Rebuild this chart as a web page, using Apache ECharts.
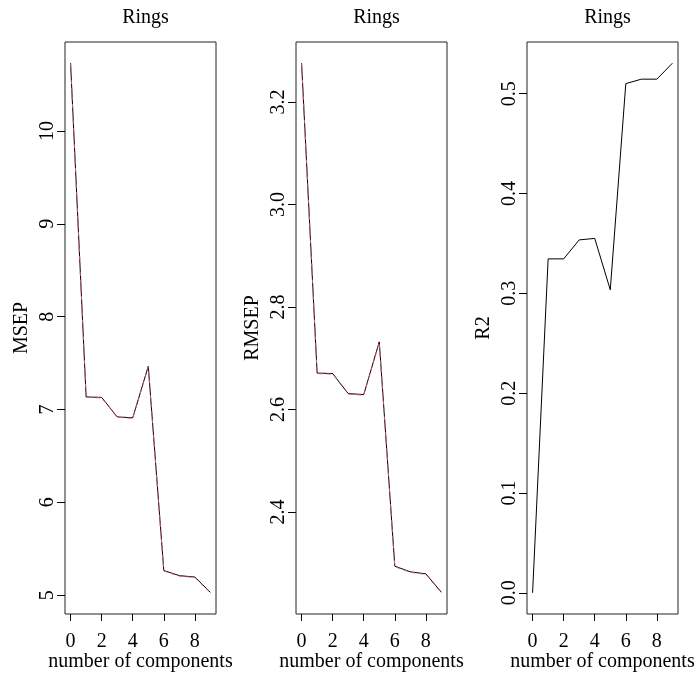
<!DOCTYPE html>
<html>
<head>
<meta charset="utf-8">
<script src="https://cdn.jsdelivr.net/npm/echarts@6/dist/echarts.min.js"></script>
<style>
  html, body { margin: 0; padding: 0; background: #fff; }
  #chart { width: 700px; height: 673px; }
</style>
</head>
<body>
<div id="chart"></div>
<script>
// number of components on the x axis
const components = [0, 1, 2, 3, 4, 5, 6, 7, 8, 9];

// MSEP panel: CV (black solid) and adjCV (red dashed)
const msepCV = [10.73, 7.135, 7.13, 6.92, 6.91, 7.465, 5.265, 5.21, 5.195, 5.03];
const msepAdjCV = [10.72, 7.13, 7.125, 6.915, 6.905, 7.46, 5.26, 5.205, 5.19, 5.025];

// RMSEP panel
const rmsepCV = [3.276, 2.671, 2.670, 2.631, 2.629, 2.732, 2.294, 2.283, 2.279, 2.243];
const rmsepAdjCV = [3.275, 2.670, 2.669, 2.630, 2.628, 2.731, 2.293, 2.282, 2.278, 2.242];

// R2 panel
const r2 = [0, 0.3345, 0.3345, 0.3535, 0.355, 0.3035, 0.510, 0.5145, 0.5145, 0.5305];

// tick labels
const xTicks = [0, 2, 4, 6, 8];
const msepTicks = [5, 6, 7, 8, 9, 10];
const rmsepTicks = [2.4, 2.6, 2.8, 3.0, 3.2];
const r2Ticks = [0, 0.1, 0.2, 0.3, 0.4, 0.5];

const panelTitles = ["Rings", "Rings", "Rings"];
const yNames = ["MSEP", "RMSEP", "R2"];

const font = "'Liberation Serif', 'Times New Roman', serif";
const red = "#DF536B";

// R pads the data range by 4% on each side
function padMin(v) { return v.min - 0.04 * (v.max - v.min); }
function padMax(v) { return v.max + 0.04 * (v.max - v.min); }

function pairs(ys) {
    return ys.map((y, i) => [components[i], y]);
}

const lefts = [65, 296, 527];
const panelWidth = 151;

function makeX(i) {
    return {
        type: "value",
        gridIndex: i,
        min: padMin,
        max: padMax,
        splitLine: { show: false },
        axisLine: { show: false, onZero: false },
        axisTick: {
            show: true,
            length: 7,
            customValues: xTicks,
            lineStyle: { color: "#000", width: 1 }
        },
        axisLabel: {
            customValues: xTicks,
            margin: 18,
            color: "#000",
            fontFamily: font,
            fontSize: 20
        },
        name: "number of components",
        nameLocation: "middle",
        nameGap: 38,
        nameMoveOverlap: false,
        nameTextStyle: { color: "#000", fontFamily: font, fontSize: 20 }
    };
}

function makeY(i, ticks, decimals) {
    return {
        type: "value",
        gridIndex: i,
        min: padMin,
        max: padMax,
        splitLine: { show: false },
        axisLine: { show: false, onZero: false },
        axisTick: {
            show: true,
            length: 8,
            customValues: ticks,
            lineStyle: { color: "#000", width: 1 }
        },
        axisLabel: {
            customValues: ticks,
            rotate: 90,
            margin: 7,
            color: "#000",
            fontFamily: font,
            fontSize: 20,
            formatter: v => v.toFixed(decimals)
        },
        name: yNames[i],
        nameLocation: "middle",
        nameGap: 33,
        nameMoveOverlap: false,
        nameTextStyle: { color: "#000", fontFamily: font, fontSize: 20 }
    };
}

function solid(i, ys) {
    return {
        type: "line",
        xAxisIndex: i,
        yAxisIndex: i,
        data: pairs(ys),
        showSymbol: false,
        animation: false,
        lineStyle: { color: "#000", width: 1 }
    };
}

function dashed(i, ys) {
    return {
        type: "line",
        xAxisIndex: i,
        yAxisIndex: i,
        data: pairs(ys),
        showSymbol: false,
        animation: false,
        lineStyle: { color: red, width: 1, type: [4, 4] }
    };
}

let chart = echarts.init(document.getElementById("chart"));

let options = {
    backgroundColor: "#fff",
    title: panelTitles.map((t, i) => ({
        text: t,
        left: lefts[i] + panelWidth / 2,
        top: 3,
        textAlign: "center",
        textStyle: { color: "#000", fontFamily: font, fontSize: 20, fontWeight: "normal" }
    })),
    grid: lefts.map(l => ({
        left: l,
        width: panelWidth,
        top: 42,
        bottom: 59,
        outerBoundsMode: "none",
        containLabel: false,
        show: true,
        borderColor: "#222",
        borderWidth: 1,
        backgroundColor: "transparent"
    })),
    xAxis: [makeX(0), makeX(1), makeX(2)],
    yAxis: [
        makeY(0, msepTicks, 0),
        makeY(1, rmsepTicks, 1),
        makeY(2, r2Ticks, 1)
    ],
    series: [
        solid(0, msepCV),
        dashed(0, msepAdjCV),
        solid(1, rmsepCV),
        dashed(1, rmsepAdjCV),
        solid(2, r2)
    ]
};
chart.setOption(options);
</script>
</body>
</html>
